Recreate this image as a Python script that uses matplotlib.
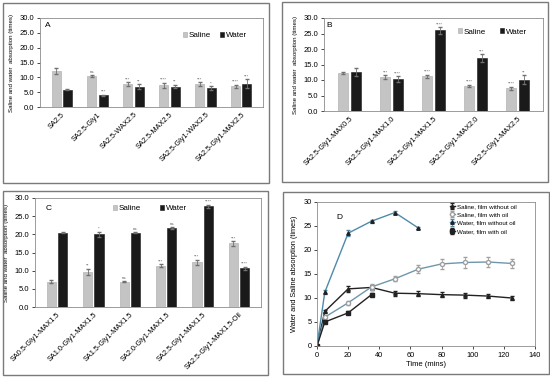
import matplotlib
matplotlib.use('Agg')
import matplotlib.pyplot as plt
from matplotlib.patches import Rectangle
import numpy as np

plt.rcParams['font.family'] = ['Liberation Sans', 'DejaVu Sans']

W, H = 550, 379

# ---- panel A
a_cats = ['SA2.5', 'SA2.5-Gly1', 'SA2.5-WAX2.5', 'SA2.5-MAX2.5',
          'SA2.5-Gly1-WAX2.5', 'SA2.5-Gly1-MAX2.5']
a_saline = [12.0, 10.5, 7.8, 7.3, 7.8, 7.0]
a_water = [5.8, 3.9, 6.9, 6.9, 6.4, 7.9]
a_saline_err = [1.0, 0.4, 0.6, 0.9, 0.6, 0.5]
a_water_err = [0.2, 0.3, 0.7, 0.6, 0.6, 1.5]
a_saline_sig = ['', 'ns', '***', '****', '***', '****']
a_water_sig = ['', '***', '**', '**', '*', '***']

# ---- panel B
b_cats = ['SA2.5-Gly1-MAX0.5', 'SA2.5-Gly1-MAX1.0', 'SA2.5-Gly1-MAX1.5',
          'SA2.5-Gly1-MAX2.0', 'SA2.5-Gly1-MAX2.5']
b_saline = [12.3, 11.0, 11.2, 8.2, 7.3]
b_water = [12.6, 10.4, 26.0, 17.1, 10.1]
b_saline_err = [0.3, 0.6, 0.5, 0.3, 0.5]
b_water_err = [1.2, 0.9, 1.0, 1.2, 1.4]
b_saline_sig = ['', '***', '****', '****', '****']
b_water_sig = ['', '****', '****', '***', '**']

# ---- panel C
c_cats = ['SA0.5-Gly1-MAX1.5', 'SA1.0-Gly1-MAX1.5', 'SA1.5-Gly1-MAX1.5',
          'SA2.0-Gly1-MAX1.5', 'SA2.5-Gly1-MAX1.5', 'SA2.5-Gly1-MAX1.5-Oil']
c_saline = [7.0, 9.7, 7.0, 11.4, 12.3, 17.5]
c_water = [20.5, 20.0, 20.5, 21.8, 27.7, 10.6]
c_saline_err = [0.3, 0.8, 0.2, 0.4, 0.7, 0.6]
c_water_err = [0.2, 0.7, 0.2, 0.3, 0.4, 0.5]
c_saline_sig = ['', '**', 'ns', '***', '***', '***']
c_water_sig = ['', '*', 'ns', 'ns', '****', '****']

# ---- panel D
d_time = [0, 5, 20, 35, 50, 65, 80, 95, 110, 125]
d_saline_no_oil = [0, 7.2, 11.9, 12.2, 11.0, 10.9, 10.7, 10.6, 10.4, 10.0]
d_saline_no_oil_err = [0, 0.4, 0.7, 0.5, 0.5, 0.5, 0.5, 0.5, 0.4, 0.4]
d_saline_oil = [0, 6.0, 9.0, 12.3, 14.0, 16.0, 17.1, 17.4, 17.5, 17.2]
d_saline_oil_err = [0, 0.4, 0.4, 0.6, 0.5, 0.8, 1.0, 1.1, 1.0, 0.9]
d_time_water = [0, 5, 20, 35, 50, 65]
d_water_no_oil = [0, 11.2, 23.5, 26.0, 27.8, 24.6]
d_water_no_oil_err = [0, 0.4, 0.6, 0.3, 0.4, 0.2]
d_time_water_oil = [0, 5, 20, 35]
d_water_oil = [0, 5.0, 6.9, 10.7]
d_water_oil_err = [0, 0.3, 0.3, 0.3]

GREY = '#c4c4c4'
DARK = '#1a1a1a'
SPINE = '#8c8c8c'

fig = plt.figure(figsize=(W / 100, H / 100), dpi=100)


def add_ax(x0, y0, x1, y1):
    return fig.add_axes([x0 / W, 1 - y1 / H, (x1 - x0) / W, (y1 - y0) / H])


def frame(x0, y0, x1, y1):
    fig.patches.append(Rectangle((x0 / W, 1 - y1 / H), (x1 - x0) / W, (y1 - y0) / H,
                                 transform=fig.transFigure, fill=False,
                                 edgecolor='#7a7a7a', linewidth=1.0))


def bar_panel(ax, cats, sal, wat, sal_e, wat_e, sal_s, wat_s, letter, letter_xy,
              leg_xy, colspace, width):
    x = np.arange(len(cats))
    off = width / 2 + 0.03
    ax.bar(x - off, sal, width, color=GREY, edgecolor='#a8a8a8', linewidth=0.4,
           yerr=sal_e, error_kw=dict(ecolor='#707070', elinewidth=0.6, capsize=1.2),
           label='Saline')
    ax.bar(x + off, wat, width, color=DARK, edgecolor=DARK, linewidth=0.4,
           yerr=wat_e, error_kw=dict(ecolor='#707070', elinewidth=0.6, capsize=1.2),
           label='Water')
    for i in range(len(cats)):
        if sal_s[i]:
            ax.text(x[i] - off, sal[i] + sal_e[i] + 0.2, sal_s[i], ha='center',
                    va='bottom', fontsize=3.2, color='#606060')
        if wat_s[i]:
            ax.text(x[i] + off, wat[i] + wat_e[i] + 0.2, wat_s[i], ha='center',
                    va='bottom', fontsize=3.2, color='#606060')
    ax.set_ylim(0, 30)
    ax.set_xlim(-0.6, len(cats) - 0.4)
    ax.set_yticks(np.arange(0, 31, 5))
    ax.set_yticklabels(['%.1f' % v for v in np.arange(0, 31, 5)], fontsize=5.5)
    ax.set_xticks(x)
    ax.set_xticklabels(cats, rotation=45, ha='right', rotation_mode='anchor', fontsize=5.3)
    ax.tick_params(axis='x', length=0, pad=3)
    ax.tick_params(axis='y', length=2, width=0.5, pad=2)
    for s in ax.spines.values():
        s.set_color(SPINE)
        s.set_linewidth(0.6)
    ax.set_ylabel('Saline and water  absorption (times)', fontsize=4.4, labelpad=4)
    ax.text(letter_xy[0], letter_xy[1], letter, transform=ax.transAxes, fontsize=6,
            va='center', ha='center')
    ax.legend(loc='center left', bbox_to_anchor=leg_xy, ncol=2, frameon=False,
              fontsize=5.8, borderpad=0, borderaxespad=0,
              handlelength=0.5, handleheight=0.5, handletextpad=0.2,
              columnspacing=colspace)
    return ax


# panel boxes
frame(3, 3, 269, 183)
frame(282, 2, 548, 182)
frame(3, 191, 268, 375)
frame(283, 192, 549, 374)

axA = add_ax(40, 18, 263, 107)
bar_panel(axA, a_cats, a_saline, a_water, a_saline_err, a_water_err,
          a_saline_sig, a_water_sig, 'A', (0.035, 0.92), (0.64, 0.80), 1.2, 0.25)

axB = add_ax(324, 18, 543, 111)
bar_panel(axB, b_cats, b_saline, b_water, b_saline_err, b_water_err,
          b_saline_sig, b_water_sig, 'B', (0.025, 0.92), (0.61, 0.85), 1.8, 0.24)

axC = add_ax(35, 198, 261, 307)
bar_panel(axC, c_cats, c_saline, c_water, c_saline_err, c_water_err,
          c_saline_sig, c_water_sig, 'C', (0.06, 0.9), (0.345, 0.90), 2.4, 0.25)

# panel D
axD = add_ax(317, 202, 535, 346)
eb = dict(elinewidth=0.6, capsize=1.5)
axD.errorbar(d_time, d_saline_no_oil, yerr=d_saline_no_oil_err, color='#222222',
             marker='^', markersize=2.5, linewidth=1.0, label='Saline, film without oil', **eb)
axD.errorbar(d_time, d_saline_oil, yerr=d_saline_oil_err, color='#6e97ab',
             ecolor='#a0a0a0', marker='o', markersize=3, markerfacecolor='white',
             markeredgecolor='#a0a0a0', linewidth=1.0, label='Saline, film with oil', **eb)
axD.errorbar(d_time_water, d_water_no_oil, yerr=d_water_no_oil_err, color='#4f8aa6',
             ecolor='#4f8aa6', marker='^', markersize=2.5, markerfacecolor='#222222',
             markeredgecolor='#222222', linewidth=1.0, label='Water, film without oil', **eb)
axD.errorbar(d_time_water_oil, d_water_oil, yerr=d_water_oil_err, color='#222222',
             marker='s', markersize=2.5, linewidth=1.0, label='Water, film with oil', **eb)
axD.set_xlim(0, 140)
axD.set_ylim(0, 30)
axD.set_xticks(np.arange(0, 141, 20))
axD.set_yticks(np.arange(0, 31, 5))
axD.tick_params(labelsize=5.3, length=2, width=0.5, pad=2)
axD.set_xlabel('Time (mins)', fontsize=5.5, labelpad=2)
axD.set_ylabel('Water and Saline absorption (times)', fontsize=5.3, labelpad=4)
for s in axD.spines.values():
    s.set_color(SPINE)
    s.set_linewidth(0.6)
axD.text(0.09, 0.88, 'D', transform=axD.transAxes, fontsize=6)
axD.legend(loc='upper left', bbox_to_anchor=(0.6, 1.0), fontsize=4.5, frameon=False,
           handlelength=0.9, handletextpad=0.2, labelspacing=0.45,
           borderpad=0.3, borderaxespad=0)

fig.savefig('out.png', dpi=100)
